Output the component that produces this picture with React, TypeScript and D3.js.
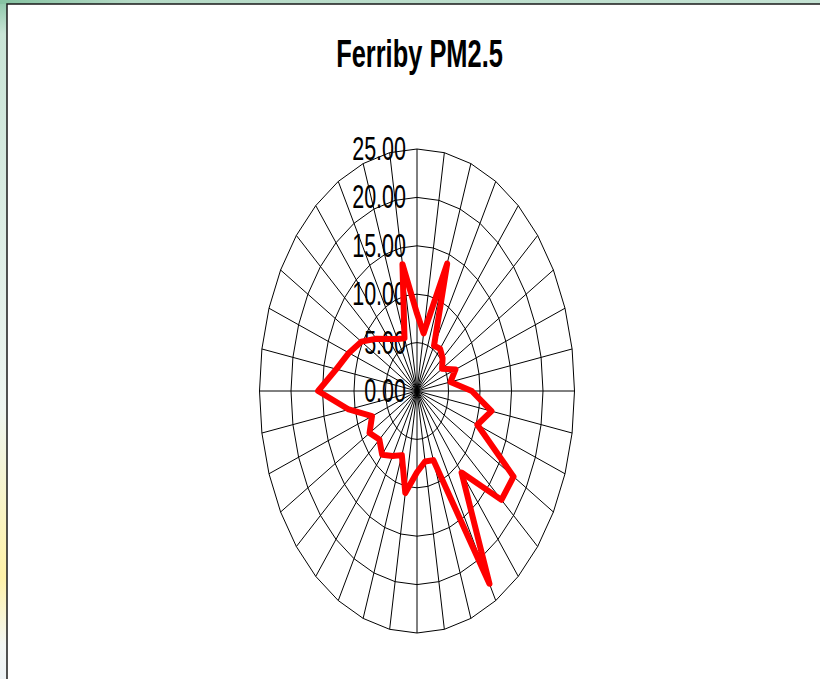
import React from 'react';
import * as d3 from 'd3';

// wind direction sectors (degrees from north, clockwise)
const directions = [
  '0', '10', '20', '30', '40', '50', '60', '70', '80',
  '90', '100', '110', '120', '130', '140', '150', '160', '170',
  '180', '190', '200', '210', '220', '230', '240', '250', '260',
  '270', '280', '290', '300', '310', '320', '330', '340', '350'
];

// mean PM2.5 per sector
const pm25 = [
  8.0, 6.05, 14.0, 5.4, 5.7, 5.3, 4.6, 6.5, 5.4,
  8.7, 12.0, 10.2, 17.7, 17.5, 11.0, 23.0, 7.6, 7.4,
  8.4, 10.7, 7.05, 7.75, 8.6, 7.8, 8.7, 7.6, 11.0,
  15.7, 13.0, 11.5, 10.2, 8.4, 7.0, 6.2, 5.8, 13.3
];

const ringTicks = [0, 5, 10, 15, 20, 25];
const tickLabels = ['0.00', '5.00', '10.00', '15.00', '20.00', '25.00'];

const W = 820;
const H = 679;
// the original picture was squeezed sideways, so the radar is an ellipse
const cx = 417;
const cy = 391;
const rx = 157.5;
const ry = 242;
const squeeze = 0.652;

export default function App() {
  const r = d3.scaleLinear().domain([0, 25]).range([0, 1]);
  const a = d3.scaleLinear().domain([0, directions.length]).range([0, 2 * Math.PI]);

  const pt = (i: number, v: number): [number, number] => [
    cx + r(v) * rx * Math.sin(a(i)),
    cy - r(v) * ry * Math.cos(a(i))
  ];

  const closed = d3.line<[number, number]>().curve(d3.curveLinearClosed);

  const rings = ringTicks.filter(t => t > 0).map(t =>
    closed(directions.map((_, i) => pt(i, t)))
  );

  const seriesPath = closed(pm25.map((v, i) => pt(i, v)));

  const font = '"Liberation Sans", Arial, Helvetica, sans-serif';

  return (
    <div style={{ position: 'absolute', left: 0, top: 0 }}>
      <svg width={W} height={H} style={{ display: 'block' }}>
        <defs>
          <linearGradient id="sideStrip" x1="0" y1="0" x2="0" y2="1">
            <stop offset="0" stopColor="#8cc7a8" />
            <stop offset="0.05" stopColor="#c9e4d6" />
            <stop offset="0.6" stopColor="#eef5f1" />
            <stop offset="0.85" stopColor="#fff2a8" />
            <stop offset="0.95" stopColor="#f3f6f4" />
            <stop offset="1" stopColor="#eef3f6" />
          </linearGradient>
          <linearGradient id="topStrip" x1="0" y1="0" x2="1" y2="0">
            <stop offset="0" stopColor="#86c3a2" />
            <stop offset="0.16" stopColor="#b5dac6" />
            <stop offset="1" stopColor="#c4e2d3" />
          </linearGradient>
        </defs>

        <rect x={0} y={0} width={W} height={H} fill="#ffffff" />
        <rect x={0} y={0} width={8} height={H} fill="url(#sideStrip)" />
        <rect x={0} y={0} width={W} height={4} fill="url(#topStrip)" />
        <rect x={7} y={4} width={W + 10} height={H + 10} fill="#ffffff" stroke="#1a1a1a" strokeWidth={1.5} />

        <text
          transform={`translate(419.5,67) scale(${squeeze},1)`}
          textAnchor="middle"
          fontFamily={font}
          fontWeight="bold"
          fontSize={39}
          fill="#000"
        >
          Ferriby PM2.5
        </text>

        <g fill="none" stroke="#000" strokeWidth={1}>
          {rings.map((d, i) => <path key={i} d={d || ''} />)}
          {directions.map((dir, i) => {
            const [x, y] = pt(i, 25);
            return <line key={dir} x1={cx} y1={cy} x2={x} y2={y} />;
          })}
        </g>

        <g fontFamily={font} fontSize={33} fill="#000">
          {ringTicks.map((t, i) => (
            <text
              key={t}
              transform={`translate(406,${pt(0, t)[1] + 11}) scale(${squeeze},1)`}
              textAnchor="end"
            >
              {tickLabels[i]}
            </text>
          ))}
        </g>

        <path
          d={seriesPath || ''}
          fill="none"
          stroke="#ff0000"
          strokeWidth={6}
          strokeLinejoin="round"
        />
      </svg>
    </div>
  );
}
